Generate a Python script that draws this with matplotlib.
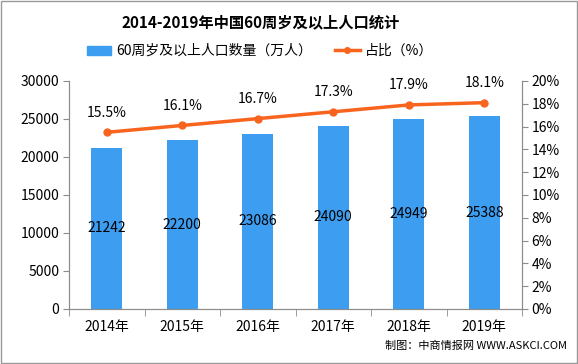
import matplotlib
matplotlib.use("Agg")
import matplotlib.pyplot as plt
from matplotlib.ticker import FixedLocator
from matplotlib.lines import Line2D
from matplotlib.patches import Patch, Rectangle

plt.rcParams['font.family'] = ['Noto Sans CJK SC', 'DejaVu Sans']

years = ["2014年", "2015年", "2016年", "2017年", "2018年", "2019年"]
population = [21242, 22200, 23086, 24090, 24949, 25388]
share = [15.5, 16.1, 16.7, 17.3, 17.9, 18.1]

bar_color = "#3D9DF0"
line_color = "#F8641E"
axis_color = "#8C8C8C"

fig = plt.figure(figsize=(5.78, 3.64), dpi=100)
ax = fig.add_axes([69/578, 1-309/364, (522-69)/578, (309-81)/364])
ax2 = ax.twinx()

x = list(range(len(years)))
ax.bar(x, population, width=0.41, color=bar_color, zorder=2)
for xi, v in zip(x, population):
    ax.text(xi, v/2, str(v), ha='center', va='center', fontsize=10, color='black', zorder=3)

ax2.plot(x, share, color=line_color, lw=2.5, marker='o', ms=5, zorder=4)
for xi, v in zip(x, share):
    ax2.annotate(f"{v}%", (xi, v), xytext=(0, 14), textcoords='offset points',
                 ha='center', va='center', fontsize=10)

ax.set_xlim(-0.5, 5.5)
ax.set_ylim(0, 30000)
ax2.set_ylim(0, 20)
ax.set_yticks(range(0, 30001, 5000))
ax2.set_yticks(range(0, 21, 2))
ax2.set_yticklabels([f"{t}%" for t in range(0, 21, 2)])

ax.set_xticks(x)
ax.set_xticklabels(years)
ax.xaxis.set_minor_locator(FixedLocator([i + 0.5 for i in range(-1, 6)]))
ax.tick_params(axis='x', which='major', length=0, pad=8, labelsize=10)
ax.tick_params(axis='x', which='minor', length=5, color=axis_color, direction='out')
ax.tick_params(axis='y', length=4, color=axis_color, labelsize=10, pad=3)
ax2.tick_params(axis='y', length=4, color=axis_color, labelsize=10, pad=3)

for a in (ax, ax2):
    a.spines['top'].set_visible(False)
    for s in ('left', 'right', 'bottom'):
        a.spines[s].set_color(axis_color)

fig.text(261/578, 1-22/364, "2014-2019年中国60周岁及以上人口统计", ha='center', va='center',
         fontsize=11, fontweight='bold')

handles = [Patch(color=bar_color), Line2D([0], [0], color=line_color, lw=2.5, marker='o', ms=4)]
labels = ["60周岁及以上人口数量（万人）", "占比（%）"]
fig.legend(handles, labels, loc='center', bbox_to_anchor=(260/578, 1-51/364), ncol=2,
           frameon=False, fontsize=10, handlelength=1.75, columnspacing=1.65,
           handletextpad=0.4, handleheight=0.6)

fig.text(1-11/578, 1-346/364, "制图：中商情报网 WWW.ASKCI.COM", ha='right', va='center', fontsize=8)

fig.patches.append(Rectangle((0.001, 0.002), 0.997, 0.996, transform=fig.transFigure,
                             fill=False, edgecolor='#999999', lw=1))

fig.savefig("out.png", dpi=100)
